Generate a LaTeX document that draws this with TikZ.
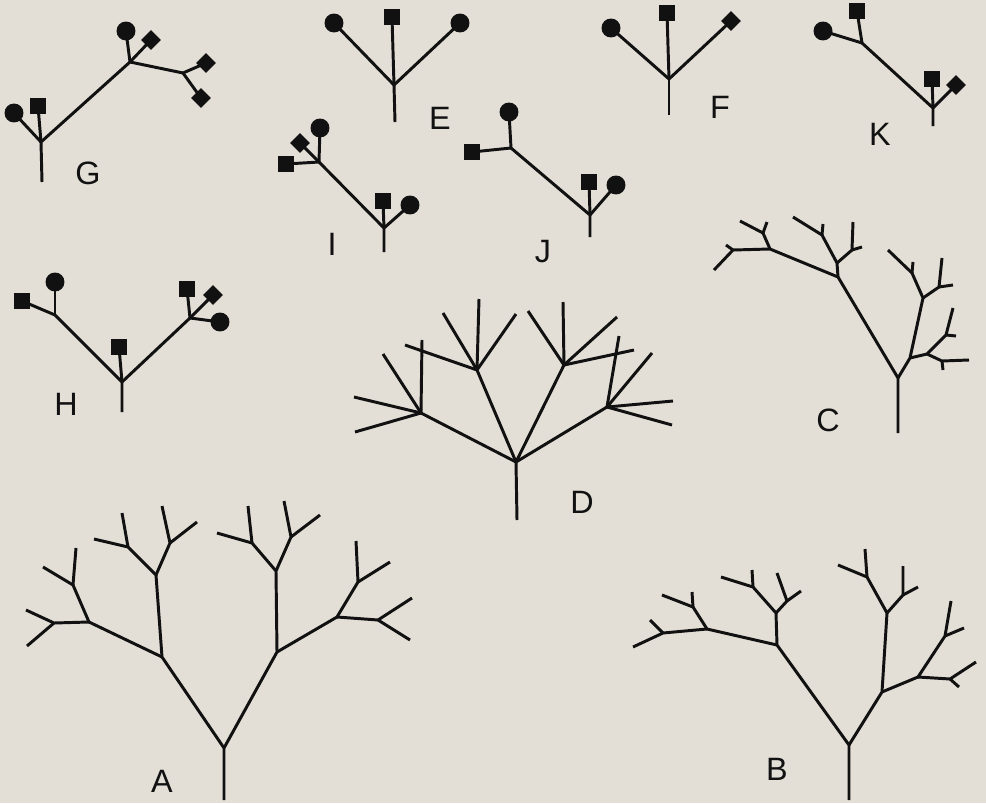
\documentclass[tikz,border=0pt]{standalone}
\usepackage{fontspec}
\setsansfont{Liberation Sans}
\usetikzlibrary{positioning}

\definecolor{paper}{RGB}{227,222,214}
\definecolor{ink}{RGB}{17,17,17}

\begin{document}
\begin{tikzpicture}[
  x=0.025cm, y=-0.025cm,
  branch/.style={draw=ink, line width=2.1pt, line join=round},
  dot/.style={circle, fill=ink, inner sep=0pt, minimum size=13.5pt},
  sq/.style={rectangle, fill=ink, inner sep=0pt, minimum size=11pt},
  dm/.style={sq, minimum size=10pt, rotate=45},
  tag/.style={text=ink, inner sep=0pt, font=\sffamily\fontsize{23}{23}\selectfont}
]
\fill[paper] (0,0) rectangle (986,803);

% === G ===
\coordinate (g0) at (42,182);
\coordinate (g1) at (41,142);
\coordinate (g2) at (130,62);
\coordinate (g3) at (183,73);
\node[dot] (gc1) at (14,113) {};
\node[sq]  (gs1) at (38,106) {};
\node[dot] (gc2) at (126,31) {};
\node[dm]  (gd1) at (151,40) {};
\node[dm]  (gd2) at (206,63) {};
\node[dm]  (gd3) at (201,98) {};
\draw[branch] (g0) -- (g1) -- (g2) -- (g3);
\draw[branch] (g1) -- (gc1.center);
\draw[branch] (g1) -- (gs1.center);
\draw[branch] (g2) -- (gc2.center);
\draw[branch] (g2) -- (gd1.center);
\draw[branch] (g3) -- (gd2.center);
\draw[branch] (g3) -- (gd3.center);
\node[tag] (lblG) at (88,173) {G};

% === E ===
\coordinate (e0) at (395,122);
\coordinate (e1) at (394,85);
\node[dot] (ec1) at (334,23) {};
\node[sq]  (es1) at (392,17) {};
\node[dot] (ec2) at (460,23) {};
\draw[branch] (e0) -- (e1);
\foreach \m in {ec1,es1,ec2} \draw[branch] (e1) -- (\m.center);
\node[tag] (lblE) at (440,118) {E};

% === F ===
\coordinate (f0) at (669,115);
\coordinate (f1) at (669,79);
\node[dot] (fc1) at (611,28) {};
\node[sq]  (fs1) at (667,13) {};
\node[dm]  (fd1) at (731,21) {};
\draw[branch] (f0) -- (f1);
\foreach \m in {fc1,fs1,fd1} \draw[branch] (f1) -- (\m.center);
\node[tag] (lblF) at (720,107) {F};

% === K ===
\coordinate (k0) at (933,126);
\coordinate (k1) at (933,108);
\coordinate (k2) at (862,43);
\node[sq]  (ks1) at (932,79) {};
\node[dm]  (kd1) at (956,85) {};
\node[dot] (kc1) at (823,31) {};
\node[sq]  (ks2) at (857,11) {};
\draw[branch] (k0) -- (k1) -- (k2);
\draw[branch] (k1) -- (ks1.center);
\draw[branch] (k1) -- (kd1.center);
\draw[branch] (k2) -- (kc1.center);
\draw[branch] (k2) -- (ks2.center);
\node[tag] (lblK) at (880,134) {K};

% === I ===
\coordinate (i0) at (384,252);
\coordinate (i1) at (384,228);
\coordinate (i2) at (319,162);
\node[sq]  (is1) at (383,201) {};
\node[dot] (ic1) at (410,205) {};
\node[dot] (ic2) at (320,128) {};
\node[dm]  (id1) at (300,143) {};
\node[sq]  (is2) at (286,164) {};
\draw[branch] (i0) -- (i1) -- (i2);
\draw[branch] (i1) -- (is1.center);
\draw[branch] (i1) -- (ic1.center);
\foreach \m in {ic2,id1,is2} \draw[branch] (i2) -- (\m.center);
\node[tag] (lblI) at (332,244) {I};

% === J ===
\coordinate (j0) at (590,237);
\coordinate (j1) at (590,215);
\coordinate (j2) at (511,148);
\node[sq]  (js1) at (589,182) {};
\node[dot] (jc1) at (616,185) {};
\node[dot] (jc2) at (509,112) {};
\node[sq]  (js2) at (472,152) {};
\draw[branch] (j0) -- (j1) -- (j2);
\draw[branch] (j1) -- (js1.center);
\draw[branch] (j1) -- (jc1.center);
\draw[branch] (j2) -- (jc2.center);
\draw[branch] (j2) -- (js2.center);
\node[tag] (lblJ) at (543,252) {J};

% === H ===
\coordinate (h0) at (122,412);
\coordinate (h1) at (122,382);
\coordinate (h2) at (55,315);
\coordinate (h3) at (190,318);
\node[sq]  (hs1) at (119,347) {};
\node[dot] (hc1) at (55,282) {};
\node[sq]  (hs2) at (22,301) {};
\node[sq]  (hs3) at (187,289) {};
\node[dm]  (hd1) at (213,295) {};
\node[dot] (hc2) at (220,322) {};
\draw[branch] (h0) -- (h1) -- (h2);
\draw[branch] (h1) -- (h3);
\draw[branch] (h1) -- (hs1.center);
\draw[branch] (h2) -- (hc1.center);
\draw[branch] (h2) -- (hs2.center);
\foreach \m in {hs3,hd1,hc2} \draw[branch] (h3) -- (\m.center);
\node[tag] (lblH) at (66,404) {H};

% === D ===
\coordinate (d0) at (516,462);
\coordinate (d1) at (421,413);
\coordinate (d2) at (477,370);
\coordinate (d3) at (564,365);
\coordinate (d4) at (607,407);
\draw[branch] (517,520) -- (d0);
\foreach \n in {d1,d2,d3,d4} \draw[branch] (d0) -- (\n);
\foreach \t in {(422,340),(383,354),(354,397),(355,432)} \draw[branch] (d1) -- \t;
\foreach \t in {(405,345),(443,313),(479,299),(516,314)} \draw[branch] (d2) -- \t;
\foreach \t in {(528,311),(563,302),(617,317),(634,350)} \draw[branch] (d3) -- \t;
\foreach \t in {(619,336),(652,353),(673,401),(672,425)} \draw[branch] (d4) -- \t;
\node[tag] (lblD) at (582,502) {D};

% === C ===
\draw[branch] (898,433) -- (898,378) -- (838,277) -- (770,249) -- (733,250) -- (714,270);
\draw[branch] (733,250) -- (726,245);
\draw[branch] (770,249) -- (763,233) -- (740,221);
\draw[branch] (763,233) -- (767,222);
\draw[branch] (838,277) -- (837,263) -- (822,235) -- (793,217);
\draw[branch] (822,235) -- (823,224);
\draw[branch] (837,263) -- (852,250) -- (853,222);
\draw[branch] (852,250) -- (862,247);
\draw[branch] (898,378) -- (910,358) -- (923,298) -- (912,273) -- (888,250);
\draw[branch] (912,273) -- (913,262);
\draw[branch] (923,298) -- (939,287) -- (942,258);
\draw[branch] (939,287) -- (953,285);
\draw[branch] (910,358) -- (927,354) -- (946,335) -- (953,308);
\draw[branch] (946,335) -- (956,336);
\draw[branch] (927,354) -- (942,361) -- (969,360);
\draw[branch] (942,361) -- (943,370);
\node[tag] (lblC) at (828,420) {C};

% === A ===
\draw[branch] (224,800) -- (224,748) -- (162,657) -- (156,575) -- (128,547) -- (94,539);
\draw[branch] (128,547) -- (122,513);
\draw[branch] (156,575) -- (170,543) -- (162,506);
\draw[branch] (170,543) -- (197,522);
\draw[branch] (162,657) -- (89,622) -- (73,585) -- (43,567);
\draw[branch] (73,585) -- (76,548);
\draw[branch] (89,622) -- (54,623) -- (26,610);
\draw[branch] (54,623) -- (27,646);
\draw[branch] (224,748) -- (277,652) -- (276,571) -- (252,543) -- (217,533);
\draw[branch] (252,543) -- (248,506);
\draw[branch] (276,571) -- (291,537) -- (284,501);
\draw[branch] (291,537) -- (320,515);
\draw[branch] (277,652) -- (337,617) -- (358,582) -- (356,541);
\draw[branch] (358,582) -- (390,562);
\draw[branch] (337,617) -- (378,620) -- (412,598);
\draw[branch] (378,620) -- (410,640);
\node[tag] (lblA) at (162,781) {A};

% === B ===
\draw[branch] (849,800) -- (849,745) -- (777,645) -- (776,613) -- (753,587) -- (721,577);
\draw[branch] (753,587) -- (752,570);
\draw[branch] (776,613) -- (787,601) -- (777,573);
\draw[branch] (787,601) -- (801,591);
\draw[branch] (777,645) -- (707,629) -- (693,607) -- (662,595);
\draw[branch] (693,607) -- (692,592);
\draw[branch] (707,629) -- (663,633) -- (633,647);
\draw[branch] (663,633) -- (650,620);
\draw[branch] (849,745) -- (882,692) -- (887,613) -- (867,577) -- (838,565);
\draw[branch] (867,577) -- (865,549);
\draw[branch] (887,613) -- (903,595) -- (903,566);
\draw[branch] (903,595) -- (918,587);
\draw[branch] (882,692) -- (918,677) -- (945,636) -- (951,601);
\draw[branch] (945,636) -- (964,628);
\draw[branch] (918,677) -- (950,679) -- (976,662);
\draw[branch] (950,679) -- (959,687);
\node[tag] (lblB) at (777,769) {B};

\end{tikzpicture}
\end{document}
